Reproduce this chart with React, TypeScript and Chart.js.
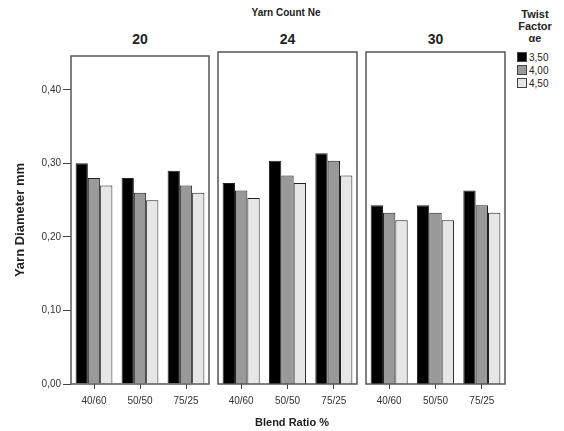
import React, { useEffect, useRef } from "react";
import { Chart, registerables } from "chart.js";

Chart.register(...registerables);

const categories = ["40/60", "50/50", "75/25"];
const yarnCounts = ["20", "24", "30"];
const twistFactors = ["3,50", "4,00", "4,50"];
const yTicks = [0, 0.1, 0.2, 0.3, 0.4];

const ne20TF350 = [0.30, 0.28, 0.29];
const ne20TF400 = [0.28, 0.26, 0.27];
const ne20TF450 = [0.27, 0.25, 0.26];
const ne24TF350 = [0.27, 0.30, 0.31];
const ne24TF400 = [0.26, 0.28, 0.30];
const ne24TF450 = [0.25, 0.27, 0.28];
const ne30TF350 = [0.24, 0.24, 0.26];
const ne30TF400 = [0.23, 0.23, 0.24];
const ne30TF450 = [0.22, 0.22, 0.23];

const panelSeries = [
  [ne20TF350, ne20TF400, ne20TF450],
  [ne24TF350, ne24TF400, ne24TF450],
  [ne30TF350, ne30TF400, ne30TF450],
];

const seriesColors = ["#000000", "#999999", "#e6e6e6"];
const FONT = "'Liberation Sans', Arial, sans-serif";

const framePlugin = {
  id: "frame",
  afterDatasetsDraw(chart: any) {
    const { ctx, chartArea } = chart;
    ctx.save();
    ctx.strokeStyle = "#555555";
    ctx.lineWidth = 1.5;
    ctx.strokeRect(chartArea.left, chartArea.top, chartArea.right - chartArea.left, chartArea.bottom - chartArea.top);
    ctx.restore();
  },
};

const panels = [
  { left: 0, width: 213, padL: 0, padR: 4, showY: true },
  { left: 214, width: 147, padL: 4, padR: 4, showY: false },
  { left: 362, width: 147, padL: 4, padR: 4, showY: false },
];
const CANVAS_TOP = 48;
const CANVAS_H = 383;

export default function App() {
  const refs = [useRef<HTMLCanvasElement>(null), useRef<HTMLCanvasElement>(null), useRef<HTMLCanvasElement>(null)];

  useEffect(() => {
    const charts = panels.map((p, i) => {
      const canvas = refs[i].current!;
      return new Chart(canvas, {
        type: "bar",
        data: {
          labels: categories,
          datasets: panelSeries[i].map((vals, k) => ({
            label: twistFactors[k],
            data: vals,
            backgroundColor: seriesColors[k],
            borderColor: "#222222",
            borderWidth: 1,
            categoryPercentage: 0.8,
            barPercentage: 1.0,
          })),
        },
        options: {
          responsive: false,
          animation: false,
          devicePixelRatio: 1,
          layout: { padding: { left: p.padL, right: p.padR, top: 4, bottom: 0 } },
          plugins: { legend: { display: false }, tooltip: { enabled: false }, title: { display: false } },
          scales: {
            x: {
              type: "category",
              afterFit: (s: any) => { s.height = 47; },
              border: { display: false },
              grid: { drawOnChartArea: false, drawTicks: true, tickLength: 5, offset: false, color: "#444444", lineWidth: 1 },
              ticks: { font: { family: FONT, size: 10 }, color: "#333333", padding: 6, maxRotation: 0, autoSkip: false },
            },
            y: {
              type: "linear",
              display: p.showY,
              min: 0,
              max: 0.446,
              afterFit: (s: any) => { s.width = p.showY ? 71 : 0; },
              afterBuildTicks: (s: any) => { s.ticks = yTicks.map((v) => ({ value: v })); },
              border: { display: false },
              grid: { drawOnChartArea: false, drawTicks: true, tickLength: 8, color: "#444444" },
              ticks: {
                font: { family: FONT, size: 10 },
                color: "#333333",
                padding: 2,
                callback: (v: any) => Number(v).toFixed(2).replace(".", ","),
              },
              title: {
                display: true,
                text: "Yarn Diameter mm",
                font: { family: FONT, size: 13, weight: "bold" },
                color: "#222222",
                padding: { top: 13, bottom: 0 },
              },
            },
          },
        },
        plugins: [framePlugin],
      } as any);
    });
    return () => charts.forEach((c) => c.destroy());
  }, []);

  const panelCenters = [140, 287.5, 435.5];

  return (
    <div style={{ position: "fixed", left: 0, top: 0, width: 564, height: 431, background: "#ffffff", fontFamily: FONT, color: "#222" }}>
      {panels.map((p, i) => (
        <canvas
          key={i}
          ref={refs[i]}
          width={p.width}
          height={CANVAS_H}
          style={{ position: "absolute", left: p.left, top: CANVAS_TOP, width: p.width, height: CANVAS_H }}
        />
      ))}
      <div style={{ position: "absolute", left: 186, width: 200, top: 7, textAlign: "center", fontSize: 10, fontWeight: "bold" }}>
        Yarn Count Ne
      </div>
      {yarnCounts.map((t, i) => (
        <div key={t} style={{ position: "absolute", left: panelCenters[i] - 30, width: 60, top: 31, textAlign: "center", fontSize: 14, fontWeight: "bold" }}>
          {t}
        </div>
      ))}
      <div style={{ position: "absolute", left: 192, width: 200, top: 416, textAlign: "center", fontSize: 11, fontWeight: "bold" }}>
        Blend Ratio %
      </div>
      <div style={{ position: "absolute", left: 510, width: 50, top: 8, textAlign: "center", fontSize: 11, fontWeight: "bold", lineHeight: "12px" }}>
        Twist<br />Factor<br />αe
      </div>
      {twistFactors.map((t, k) => (
        <div key={t} style={{ position: "absolute", left: 517, top: 51 + k * 13, height: 12, display: "flex", alignItems: "center", fontSize: 10 }}>
          <span style={{ display: "inline-block", width: 10, height: 10, background: seriesColors[k], border: "1px solid #444", marginRight: 2, boxSizing: "border-box" }} />
          <span>{t}</span>
        </div>
      ))}
    </div>
  );
}
